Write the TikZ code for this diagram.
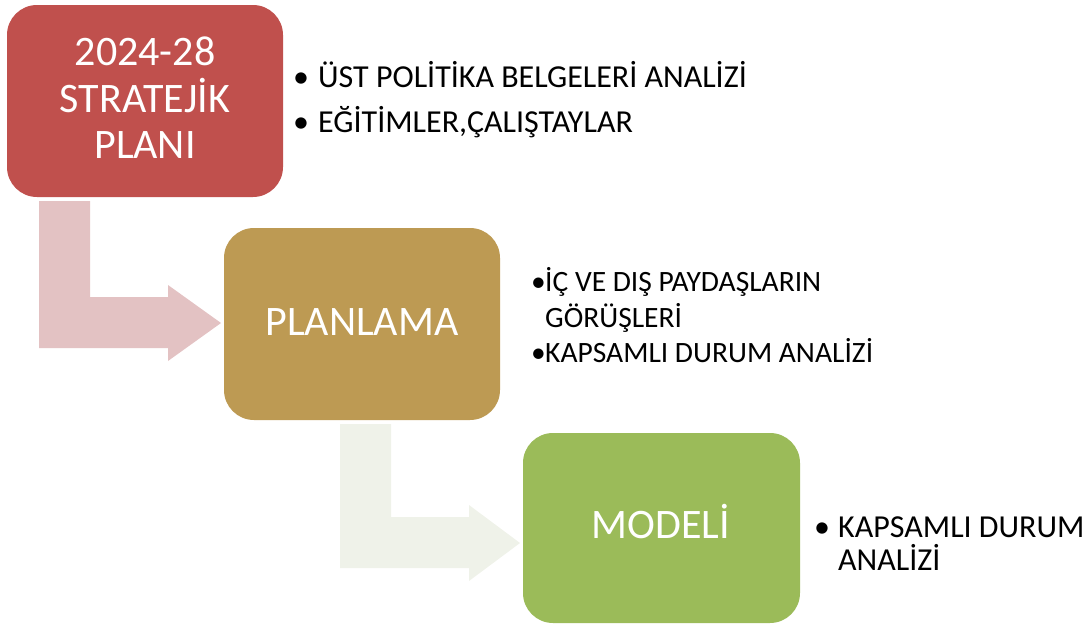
\documentclass[tikz,border=0pt]{standalone}
\usepackage{fontspec}
\setmainfont{Carlito}
\definecolor{boxred}{HTML}{C0504D}
\definecolor{boxgold}{HTML}{BD9A53}
\definecolor{boxgreen}{HTML}{9BBB59}
\definecolor{arrowpink}{HTML}{E3C2C3}
\definecolor{arrowpale}{HTML}{EFF2E9}
\tikzset{
  box/.style={rectangle, rounded corners=30pt, draw=none, inner sep=0pt},
  boxtext/.style={anchor=base, inner sep=0pt, text=white, font=\fontsize{42}{46}\selectfont},
  bullettext/.style={anchor=base west, inner sep=0pt, text=black, font=\fontsize{32}{36}\selectfont},
  bullettextsmall/.style={anchor=base west, inner sep=0pt, text=black, font=\fontsize{29.5}{34}\selectfont},
  bendarrow/.style={draw=none}
}
\begin{document}
\begin{tikzpicture}[x=1pt, y=-1pt]
\useasboundingbox (0,0) rectangle (1088,627);
% boxes
\node[box, fill=boxred, minimum width=276pt, minimum height=192pt] (b1) at (145,101) {};
\node[box, fill=boxgold, minimum width=276pt, minimum height=192pt] (b2) at (362,324) {};
\node[box, fill=boxgreen, minimum width=277pt, minimum height=190pt] (b3) at (661.5,528) {};
% bent arrows
\fill[arrowpink, bendarrow] (39,201) -- (90,201) -- (90,297) -- (168,297) -- (168,285) -- (221,323) -- (168,361) -- (168,348) -- (39,348) -- cycle;
\fill[arrowpale, bendarrow] (340,424) -- (391,424) -- (391,517) -- (469,517) -- (469,505) -- (520,543) -- (469,581) -- (469,568) -- (340,568) -- cycle;
% box texts
\node[boxtext] (t1a) at (145,65) {2024-28};
\node[boxtext] (t1b) at (145,112) {STRATEJİK};
\node[boxtext] (t1c) at (145,158) {PLANI};
\node[boxtext] (t2) at (362,335) {PLANLAMA};
\node[boxtext] (t3) at (661,538) {MODELİ};
% bullets box 1
\node[bullettext] (p1a) at (293,87) {•};
\node[bullettext] (l1a) at (318,87) {ÜST POLİTİKA BELGELERİ ANALİZİ};
\node[bullettext] (p1b) at (293,132) {•};
\node[bullettext] (l1b) at (318,132) {EĞİTİMLER,ÇALIŞTAYLAR};
% bullets box 2
\node[bullettextsmall] (p2a) at (531,291) {•};
\node[bullettextsmall] (l2a) at (545,291) {İÇ VE DIŞ PAYDAŞLARIN};
\node[bullettextsmall] (l2b) at (545,327) {GÖRÜŞLERİ};
\node[bullettextsmall] (p2c) at (531,362) {•};
\node[bullettextsmall] (l2c) at (545,362) {KAPSAMLI DURUM ANALİZİ};
% bullets box 3
\node[bullettext] (p3a) at (814,537) {•};
\node[bullettext] (l3a) at (838,537) {KAPSAMLI DURUM};
\node[bullettext] (l3b) at (838,570) {ANALİZİ};
\end{tikzpicture}
\end{document}
